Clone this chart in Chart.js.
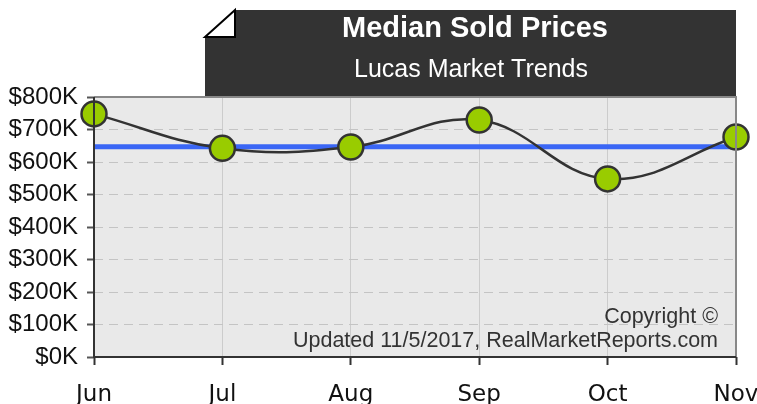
<!DOCTYPE html>
<html><head><meta charset="utf-8">
<script src="https://cdn.jsdelivr.net/npm/chart.js@4/dist/chart.umd.min.js"></script>
<style>html,body{margin:0;padding:0;background:#fff;}#wrap{width:757px;height:404px;}</style>
</head><body><div id="wrap"><canvas id="c" width="757" height="404"></canvas></div>
<script>
const categories = ["Jun", "Jul", "Aug", "Sep", "Oct", "Nov"];
const medianPrices = [748000, 642000, 646000, 729000, 548000, 677000];
const averageLine = [647000, 647000, 647000, 647000, 647000, 647000];
const yTicks = [0, 100000, 200000, 300000, 400000, 500000, 600000, 700000, 800000];
const titleText = "Median Sold Prices";
const subtitleText = "Lucas Market Trends";
const copyrightLines = ["Copyright \u00A9", "Updated 11/5/2017, RealMarketReports.com"];

const decor = {
  id: 'decor',
  beforeDraw(chart) {
    const ctx = chart.ctx, a = chart.chartArea;
    ctx.save();
    ctx.fillStyle = '#e9e9e9';
    ctx.fillRect(a.left, a.top, a.right - a.left, a.bottom - a.top);
    const bx = 205, by = 10, br = a.right, bb = a.top, fold = 30, foldH = 27;
    ctx.fillStyle = '#333333';
    ctx.beginPath();
    ctx.moveTo(bx + fold, by); ctx.lineTo(br, by); ctx.lineTo(br, bb); ctx.lineTo(bx, bb);
    ctx.lineTo(bx, by + foldH); ctx.closePath(); ctx.fill();
    ctx.fillStyle = '#ffffff'; ctx.strokeStyle = '#000'; ctx.lineWidth = 2;
    ctx.beginPath();
    ctx.moveTo(bx, by + foldH); ctx.lineTo(bx + fold, by); ctx.lineTo(bx + fold, by + foldH); ctx.closePath();
    ctx.fill(); ctx.stroke();
    ctx.fillStyle = '#ffffff'; ctx.textAlign = 'center'; ctx.textBaseline = 'middle';
    ctx.font = 'bold 29px "Liberation Sans", Arial, sans-serif';
    ctx.fillText(titleText, 475, 29);
    ctx.font = '25px "Liberation Sans", Arial, sans-serif';
    ctx.fillText(subtitleText, 471, 70);
    ctx.restore();
  },
  afterDatasetsDraw(chart) {
    const ctx = chart.ctx, a = chart.chartArea;
    ctx.save();
    ctx.fillStyle = '#333333'; ctx.textAlign = 'right'; ctx.textBaseline = 'middle';
    ctx.font = '21.5px "Liberation Sans", Arial, sans-serif';
    ctx.fillText(copyrightLines[0], 718, 317);
    ctx.fillText(copyrightLines[1], 718, 341);
    ctx.strokeStyle = '#888888'; ctx.lineWidth = 2;
    ctx.beginPath(); ctx.moveTo(a.left, a.top); ctx.lineTo(a.right, a.top); ctx.lineTo(a.right, a.bottom); ctx.stroke();
    ctx.strokeStyle = '#333333';
    ctx.beginPath(); ctx.moveTo(a.left, a.top); ctx.lineTo(a.left, a.bottom); ctx.lineTo(a.right, a.bottom); ctx.stroke();
    ctx.restore();
  }
};

new Chart(document.getElementById('c'), {
  type: 'line',
  data: {
    labels: categories,
    datasets: [
      {
        data: averageLine, borderColor: '#3a66f5', borderWidth: 5, pointRadius: 0,
        pointHoverRadius: 0, tension: 0, order: 1
      },
      {
        data: medianPrices, borderColor: '#333333', borderWidth: 2.5, tension: 0.4,
        pointRadius: 12.5, pointHoverRadius: 12.5, pointBackgroundColor: '#99cc00',
        pointBorderColor: '#333333', pointBorderWidth: 2.5, order: 0
      }
    ]
  },
  options: {
    responsive: false, animation: false, events: [],
    layout: { padding: { top: 97, right: 21, left: 0, bottom: 0 } },
    plugins: { legend: { display: false }, tooltip: { enabled: false }, title: { display: false } },
    clip: false,
    scales: {
      x: {
        offset: false,
        grid: { color: '#cccccc', lineWidth: 1, drawTicks: true, tickLength: 8, tickColor: '#333', tickWidth: 2 },
        border: { display: false },
        ticks: { color: '#111', font: { family: '"DejaVu Sans", sans-serif', size: 23 }, padding: 16, maxRotation: 0, autoSkip: false },
        afterFit(s) { s.height = 47; s.paddingLeft = 0; s.paddingRight = 0; }
      },
      y: {
        min: 0, max: 800000,
        afterBuildTicks(s) { s.ticks = yTicks.map(v => ({ value: v })); },
        grid: { color: '#c4c4c4', lineWidth: 1, tickColor: '#555', tickLength: 7, tickWidth: 2, drawTicks: true },
        border: { display: false, dash: [9, 6] },
        ticks: {
          color: '#111', font: { family: '"Liberation Sans", Arial, sans-serif', size: 24 }, padding: 9,
          callback: v => '$' + (v / 1000) + 'K'
        },
        afterFit(s) { s.width = 94; }
      }
    }
  },
  plugins: [decor]
});
</script></body></html>
